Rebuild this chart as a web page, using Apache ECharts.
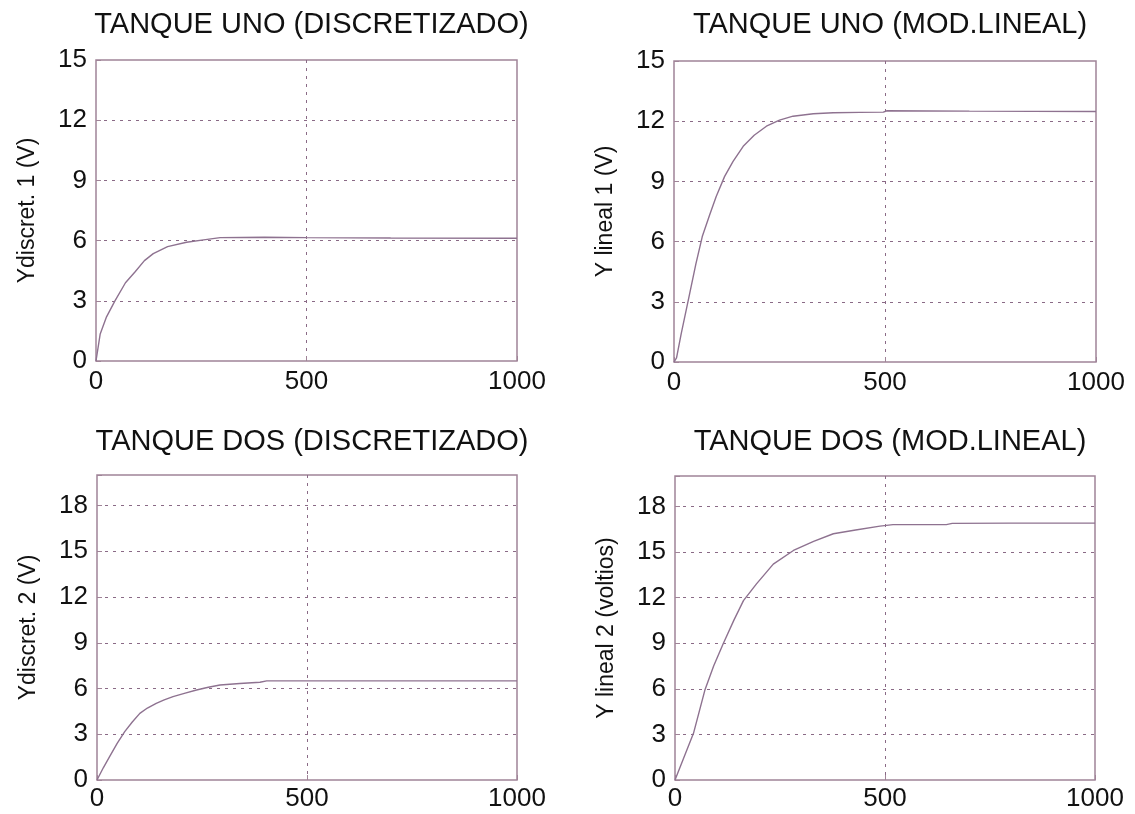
<!DOCTYPE html>
<html>
<head>
<meta charset="utf-8">
<script src="https://cdn.jsdelivr.net/npm/echarts@6/dist/echarts.min.js"></script>
<style>html,body{margin:0;padding:0;background:#fff}#c{width:1135px;height:814px}</style>
</head>
<body>
<div id="c"></div>
<script>
// ---- data ----
const titles = ['TANQUE UNO (DISCRETIZADO)', 'TANQUE UNO (MOD.LINEAL)', 'TANQUE DOS (DISCRETIZADO)', 'TANQUE DOS (MOD.LINEAL)'];
const yNames = ['Ydiscret. 1 (V)', 'Y lineal 1 (V)', 'Ydiscret. 2 (V)', 'Y lineal 2 (voltios)'];
const xTicks = [0, 500, 1000];
const yTicksTop = [0, 3, 6, 9, 12, 15];
const yTicksBottom = [0, 3, 6, 9, 12, 15, 18];

const tanque1Discreto = [[0,0],[10,1.35],[25,2.2],[45,3.0],[70,3.9],[93,4.45],[115,5.0],[136,5.35],[170,5.7],[215,5.92],[260,6.05],[295,6.15],[400,6.17],[500,6.15],[700,6.13],[1000,6.12]];
const tanque1Lineal = [[0,0],[6,0.2],[17,1.4],[37,3.4],[52,4.9],[67,6.25],[84,7.3],[100,8.25],[120,9.25],[140,10.0],[164,10.75],[190,11.3],[219,11.75],[250,12.05],[282,12.25],[330,12.37],[377,12.42],[440,12.44],[496,12.45],[505,12.52],[700,12.5],[1000,12.48]];
const tanque2Discreto = [[0,0],[15,0.8],[30,1.53],[48,2.4],[66,3.17],[84,3.8],[102,4.37],[120,4.72],[141,5.03],[160,5.25],[181,5.47],[210,5.7],[237,5.9],[265,6.08],[293,6.23],[340,6.33],[388,6.41],[404,6.5],[600,6.5],[800,6.5],[1000,6.5]];
const tanque2Lineal = [[0,0],[4,0.1],[20,1.4],[44,3.07],[71,5.9],[92,7.5],[115,8.98],[140,10.5],[163,11.8],[194,12.9],[234,14.2],[282,15.1],[330,15.7],[377,16.2],[430,16.45],[488,16.7],[519,16.8],[600,16.8],[646,16.8],[660,16.88],[800,16.9],[1000,16.9]];
const seriesData = [tanque1Discreto, tanque1Lineal, tanque2Discreto, tanque2Lineal];

// ---- layout ----
const grids = [
  {left: 96, top: 60, width: 421, height: 301},
  {left: 674, top: 61, width: 422, height: 301},
  {left: 97, top: 475, width: 420, height: 305},
  {left: 675, top: 476, width: 420, height: 304}
];
const titleTops = [5, 5, 422, 422];
const yMax = [15, 15, 20, 20];
const xLabelMargin = [8, 8, 6, 6];

const font = 'Liberation Sans, Arial, Helvetica, sans-serif';
const borderCol = '#a08498';
const gridCol = '#8a6a86';
const lineCol = '#8e7290';

const chart = echarts.init(document.getElementById('c'), null, {renderer: 'canvas'});
const option = {
  backgroundColor: '#ffffff',
  animation: false,
  title: titles.map((t, i) => ({
    text: t,
    left: grids[i].left + grids[i].width / 2,
    top: titleTops[i],
    textAlign: 'center',
    textStyle: {fontFamily: font, fontSize: 29, fontWeight: 'normal', color: '#111'}
  })),
  grid: grids.map(g => Object.assign({show: true, borderColor: borderCol, borderWidth: 1.5, backgroundColor: '#fff'}, g)),
  xAxis: grids.map((g, i) => ({
    type: 'value', gridIndex: i, min: 0, max: 1000, interval: 500,
    axisLine: {show: false},
    axisTick: {show: true, inside: true, length: 5, lineStyle: {color: borderCol}},
    axisLabel: {fontFamily: font, fontSize: 26, color: '#111', margin: xLabelMargin[i],
      formatter: v => xTicks.includes(v) ? String(v) : ''},
    splitLine: {show: true, showMinLine: false, showMaxLine: false, lineStyle: {color: gridCol, type: [3, 5], width: 1}}
  })),
  yAxis: grids.map((g, i) => ({
    type: 'value', gridIndex: i, min: 0, max: yMax[i], interval: 3,
    name: yNames[i], nameLocation: 'middle', nameGap: 57,
    nameTextStyle: {fontFamily: font, fontSize: 23, color: '#111'},
    axisLine: {show: false},
    axisTick: {show: true, inside: true, length: 5, lineStyle: {color: borderCol}},
    axisLabel: {fontFamily: font, fontSize: 26, color: '#111', margin: 9, padding: [0, 0, 6, 0],
      formatter: v => (i < 2 ? yTicksTop : yTicksBottom).includes(v) ? String(v) : ''},
    splitLine: {show: true, showMinLine: false, showMaxLine: false, lineStyle: {color: gridCol, type: [3, 5], width: 1}}
  })),
  series: seriesData.map((d, i) => ({
    type: 'line', xAxisIndex: i, yAxisIndex: i, data: d,
    showSymbol: false, smooth: false,
    lineStyle: {color: lineCol, width: 1.4}
  }))
};
chart.setOption(option);
</script>
</body>
</html>
